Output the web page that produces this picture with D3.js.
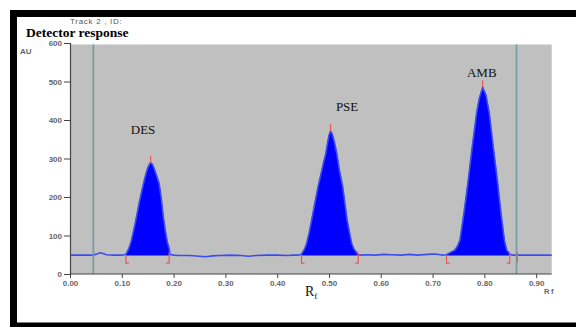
<!DOCTYPE html>
<html>
<head>
<meta charset="utf-8">
<script src="https://cdn.jsdelivr.net/npm/d3@7"></script>
<style>
  body { margin: 0; background: #fff; }
  svg { display: block; }
</style>
</head>
<body>
<svg id="chart" width="576" height="327"></svg>
<script>
// --- data ---
const yTicks = [0, 100, 200, 300, 400, 500, 600];
const xTicks = [0, 0.1, 0.2, 0.3, 0.4, 0.5, 0.6, 0.7, 0.8, 0.9];
const baseAU = 49;

const peakNames = ["DES", "PSE", "AMB"];
const peakStart = [0.108, 0.447, 0.727];
const peakEnd = [0.1915, 0.5565, 0.849];
const peakTopRf = [0.1557, 0.503, 0.7967];
const peakTopAU = [289, 371, 485];
const labelRf = [0.141, 0.535, 0.795];
const labelAU = [364, 424, 512];

const traceRf = [
  0.000, 0.020, 0.045, 0.052, 0.058, 0.064, 0.070, 0.085, 0.100, 0.105,
  // DES
  0.108, 0.110, 0.114, 0.118, 0.122, 0.126, 0.130, 0.134, 0.138, 0.142,
  0.146, 0.150, 0.1535, 0.1557, 0.159, 0.163, 0.167, 0.172, 0.176, 0.180,
  0.184, 0.188, 0.1915, 0.193,
  0.200, 0.210, 0.230, 0.250, 0.262, 0.275, 0.290, 0.310, 0.330, 0.345,
  0.360, 0.380, 0.400, 0.420, 0.430, 0.440,
  // PSE
  0.447, 0.4485, 0.453, 0.457, 0.462, 0.4666, 0.473, 0.479, 0.486, 0.490,
  0.494, 0.497, 0.500, 0.503, 0.506, 0.510, 0.515, 0.520, 0.5264, 0.531,
  0.535, 0.540, 0.5438, 0.548, 0.5535, 0.5565,
  0.560, 0.575, 0.590, 0.605, 0.620, 0.640, 0.655, 0.670, 0.690, 0.705,
  0.715, 0.720,
  // AMB
  0.727, 0.733, 0.743, 0.748, 0.753, 0.7606, 0.769, 0.7767, 0.785, 0.790,
  0.7967, 0.803, 0.8095, 0.817, 0.825, 0.832, 0.8386, 0.843, 0.8475, 0.849,
  0.855, 0.930
];
const traceAU = [
  49, 49, 49, 52, 55, 53, 50, 49, 49, 50,
  51, 56, 67, 84, 107, 132, 159, 187, 211, 235,
  257, 275, 285, 289, 285, 272, 256, 235, 198, 150,
  112, 82, 66, 51,
  49, 48, 48, 46, 45, 47, 48, 49, 48, 46,
  48, 49, 49, 48, 49, 49,
  51, 55, 65, 80, 108, 140, 185, 227, 268, 292,
  313, 338, 360, 371, 365, 345, 313, 270, 227, 180,
  140, 105, 80, 65, 55, 51,
  49, 50, 49, 51, 50, 49, 51, 49, 51, 52,
  50, 49,
  50, 55, 62, 72, 88, 158, 244, 331, 417, 455,
  485, 465, 417, 331, 244, 158, 88, 62, 55, 51,
  49, 49
];
const markerLines = [0.045, 0.862];
const extraTick = 0.8636;

// --- layout ---
const svg = d3.select("#chart");
const x = d3.scaleLinear().domain([0, 0.93]).range([70, 551.7]);
const y = d3.scaleLinear().domain([0, 600]).range([274, 43]);

const trace = traceRf.map((r, i) => ({rf: r, au: traceAU[i]}));

// frame
svg.append("rect").attr("x", 10).attr("y", 10).attr("width", 566).attr("height", 7).attr("fill", "#000");
svg.append("rect").attr("x", 10).attr("y", 10).attr("width", 7).attr("height", 317).attr("fill", "#000");
svg.append("rect").attr("x", 10).attr("y", 322.5).attr("width", 566).attr("height", 5).attr("fill", "#000");

// plot background
svg.append("rect")
  .attr("x", x(0)).attr("y", 44.5)
  .attr("width", x(0.93) - x(0)).attr("height", y(0) - 44.5)
  .attr("fill", "#c0c0c0");

// filled peaks
const area = d3.area()
  .x(d => x(d.rf))
  .y0(y(baseAU))
  .y1(d => y(d.au));
peakNames.forEach((name, i) => {
  const pts = trace.filter(d => d.rf >= peakStart[i] && d.rf <= peakEnd[i]);
  svg.append("path")
    .datum(pts)
    .attr("d", area)
    .attr("fill", "#0000ff")
    .attr("stroke", "#1010e0")
    .attr("stroke-width", 0.6);
});

// trace line
svg.append("path")
  .datum(trace)
  .attr("class", "trace")
  .attr("d", d3.line().x(d => x(d.rf)).y(d => y(d.au)))
  .attr("fill", "none")
  .attr("stroke", "#3a4cf0")
  .attr("stroke-width", 1.6);

// teal marker lines
svg.selectAll("line.mk")
  .data(markerLines)
  .join("line")
  .attr("class", "mk")
  .attr("x1", d => x(d)).attr("x2", d => x(d))
  .attr("y1", 44.5).attr("y2", y(0))
  .attr("stroke", "#6f9c9c")
  .attr("stroke-width", 1.6);

// red integration markers
const red = "#e8585a";
const by = y(baseAU);
peakNames.forEach((name, i) => {
  const xs = x(peakStart[i]), xe = x(peakEnd[i]), xt = x(peakTopRf[i]), yt = y(peakTopAU[i]);
  svg.append("path")
    .attr("d", `M${xs + 3},${by + 8} H${xs} V${by}`)
    .attr("fill", "none").attr("stroke", red).attr("stroke-width", 1.2);
  svg.append("path")
    .attr("d", `M${xe - 3},${by + 8} H${xe} V${by - 3}`)
    .attr("fill", "none").attr("stroke", red).attr("stroke-width", 1.2);
  svg.append("line")
    .attr("x1", xt).attr("x2", xt).attr("y1", yt).attr("y2", yt - 7)
    .attr("stroke", red).attr("stroke-width", 1.2);
  svg.append("text")
    .attr("x", x(labelRf[i])).attr("y", y(labelAU[i]))
    .attr("text-anchor", "middle")
    .attr("font-family", "'Liberation Serif', 'DejaVu Serif', serif")
    .attr("font-size", 13)
    .attr("fill", "#111")
    .text(name);
});
svg.append("line")
  .attr("x1", x(extraTick)).attr("x2", x(extraTick))
  .attr("y1", by - 3).attr("y2", by + 7)
  .attr("stroke", red).attr("stroke-width", 1.2);

// axes
const tickFont = "'Liberation Sans', Arial, sans-serif";
const yAxis = svg.append("g")
  .attr("transform", `translate(${x(0)},0)`)
  .call(d3.axisLeft(y).tickValues(yTicks).tickSize(6).tickPadding(2).tickFormat(d3.format("d")));
const xAxis = svg.append("g")
  .attr("transform", `translate(0,${y(0)})`)
  .call(d3.axisBottom(x).tickValues(xTicks).tickSize(4).tickPadding(2).tickFormat(d3.format(".2f")));
[yAxis, xAxis].forEach(g => {
  g.select(".domain").attr("stroke", "#444").attr("stroke-width", 1.2);
  g.selectAll(".tick line").attr("stroke", "#444");
  g.selectAll(".tick text")
    .attr("font-family", tickFont)
    .attr("font-size", 8)
    .attr("font-weight", "bold")
    .attr("fill", "#666");
});
xAxis.select(".domain").attr("d", `M${x(0)},0H${x(0.93)}`);

// texts
svg.append("text")
  .attr("x", 70).attr("y", 23.5)
  .attr("font-family", tickFont).attr("font-size", 8)
  .attr("fill", "#555").attr("letter-spacing", 0.7)
  .text("Track  2 , ID:");
svg.append("text")
  .attr("x", 26).attr("y", 37)
  .attr("font-family", "'Liberation Serif', 'DejaVu Serif', serif")
  .attr("font-size", 13.5).attr("font-weight", "bold")
  .attr("fill", "#000")
  .text("Detector response");
svg.append("text")
  .attr("x", 20).attr("y", 54)
  .attr("font-family", tickFont).attr("font-size", 8).attr("font-weight", "bold")
  .attr("fill", "#666")
  .text("AU");
svg.append("text")
  .attr("x", 544).attr("y", 294)
  .attr("font-family", tickFont).attr("font-size", 7.5).attr("font-weight", "bold")
  .attr("fill", "#666").attr("letter-spacing", 1.5)
  .text("Rf");
const rf = svg.append("text")
  .attr("x", 305).attr("y", 296)
  .attr("font-family", "'Liberation Serif', 'DejaVu Serif', serif")
  .attr("font-size", 14)
  .attr("fill", "#111");
rf.append("tspan").text("R");
rf.append("tspan").attr("dy", 3).attr("font-size", 9).text("f");
</script>
</body>
</html>
